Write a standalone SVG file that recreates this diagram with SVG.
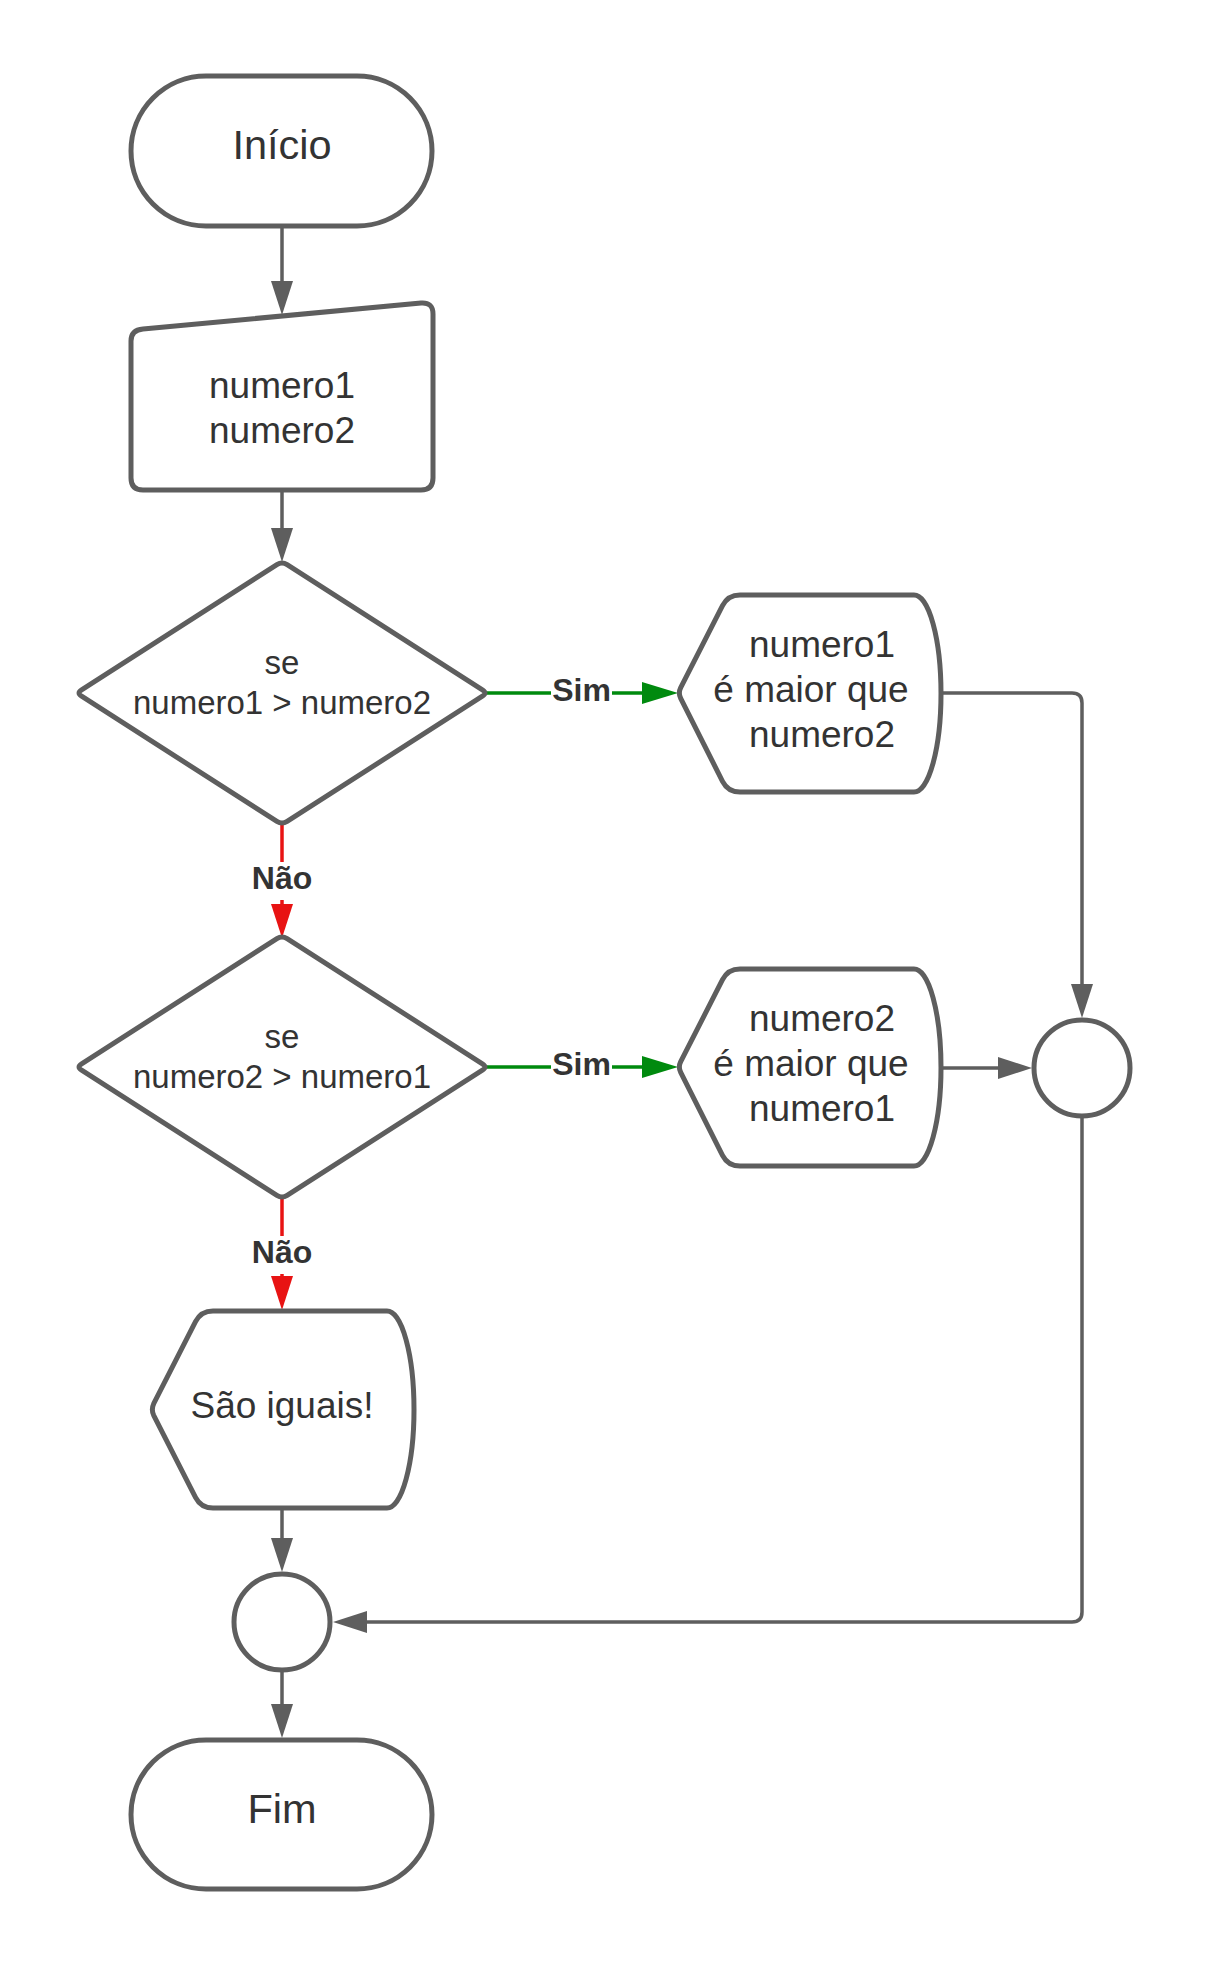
<svg xmlns="http://www.w3.org/2000/svg" width="1206" height="1967" viewBox="0 0 1206 1967">
<style>
.shape{fill:#ffffff;stroke:#5e5e5e;stroke-width:5;stroke-linejoin:round}
.conn{fill:none;stroke:#5e5e5e;stroke-width:3.5}
.red{fill:none;stroke:#e81313;stroke-width:3.5}
.green{fill:none;stroke:#008a0e;stroke-width:3.5}
text{font-family:"Liberation Sans",Arial,Helvetica,sans-serif;fill:#333333;text-anchor:middle}
.t41{font-size:41.5px}
.t37{font-size:37px}
.t33{font-size:33px}
.lbl{font-size:32px;font-weight:bold}
.bg{fill:#ffffff;stroke:none}
</style>
<defs>
<marker id="ag" markerUnits="userSpaceOnUse" markerWidth="34" markerHeight="22" refX="2" refY="11" orient="auto"><path d="M0,0 L34,11 L0,22 Z" fill="#5e5e5e"/></marker>
<marker id="ar" markerUnits="userSpaceOnUse" markerWidth="34" markerHeight="22" refX="2" refY="11" orient="auto"><path d="M0,0 L34,11 L0,22 Z" fill="#e81313"/></marker>
<marker id="agr" markerUnits="userSpaceOnUse" markerWidth="36" markerHeight="22" refX="2" refY="11" orient="auto"><path d="M0,0 L36,11 L0,22 Z" fill="#008a0e"/></marker>
</defs>
<g id="connectors">
<path class="conn" d="M282,227 V283" marker-end="url(#ag)"/>
<path class="conn" d="M282,490 V530" marker-end="url(#ag)"/>
<path class="red" d="M282,822 V906" marker-end="url(#ar)"/>
<path class="red" d="M282,1196 V1278" marker-end="url(#ar)"/>
<path class="green" d="M485,693 H644" marker-end="url(#agr)"/>
<path class="green" d="M485,1067 H644" marker-end="url(#agr)"/>
<path class="conn" d="M941,693 H1072 Q1082,693 1082,703 V986" marker-end="url(#ag)"/>
<path class="conn" d="M941,1068 H1000" marker-end="url(#ag)"/>
<path class="conn" d="M1082,1118 V1612 Q1082,1622 1072,1622 H365" marker-end="url(#ag)"/>
<path class="conn" d="M282,1509 V1540" marker-end="url(#ag)"/>
<path class="conn" d="M282,1672 V1706" marker-end="url(#ag)"/>
<g id="label-nao1"><rect class="bg" x="250" y="862" width="64" height="38"/><text class="lbl" x="282" y="889">Não</text></g>
<g id="label-nao2"><rect class="bg" x="250" y="1236" width="64" height="38"/><text class="lbl" x="282" y="1263">Não</text></g>
<g id="label-sim1"><rect class="bg" x="551" y="674" width="61" height="38"/><text class="lbl" x="581.5" y="701">Sim</text></g>
<g id="label-sim2"><rect class="bg" x="551" y="1048" width="61" height="38"/><text class="lbl" x="581.5" y="1075">Sim</text></g>
</g>
<g id="inicio">
<rect class="shape" x="131" y="76" width="301" height="150" rx="75" ry="75"/>
<text class="t41" x="282" y="159">Início</text>
</g>
<g id="entrada">
<path class="shape" d="M143,329 L421,303 Q433,302 433,314 L433,478 Q433,490 421,490 L143,490 Q131,490 131,478 L131,341 Q131,330 143,329 Z"/>
<text class="t37" x="282" y="398">numero1</text>
<text class="t37" x="282" y="443">numero2</text>
</g>
<g id="decisao1">
<path class="shape" d="M287.1,564.6 L482.4,689.8 Q487.5,693 482.4,696.2 L287.1,821.4 Q282,824.6 276.9,821.4 L81.6,696.2 Q76.5,693 81.6,689.8 L276.9,564.6 Q282,561.4 287.1,564.6 Z"/>
<text class="t33" x="282" y="674">se</text>
<text class="t33" x="282" y="714">numero1 &gt; numero2</text>
</g>
<g id="decisao2">
<path class="shape" d="M287.1,938.6 L482.4,1063.8 Q487.5,1067 482.4,1070.2 L287.1,1195.4 Q282,1198.6 276.9,1195.4 L81.6,1070.2 Q76.5,1067 81.6,1063.8 L276.9,938.6 Q282,935.4 287.1,938.6 Z"/>
<text class="t33" x="282" y="1048">se</text>
<text class="t33" x="282" y="1088">numero2 &gt; numero1</text>
</g>
<g id="saida1">
<path class="shape" d="M680.7,687.7 L722.5,605.7 Q728,595 740,595 L914,595 A27,98.5 0 0 1 914,792 L740,792 Q728,792 722.5,781.3 L680.7,698.3 Q678,693 680.7,687.7 Z"/>
<text class="t37" x="822" y="657">numero1</text>
<text class="t37" x="811" y="702">é maior que</text>
<text class="t37" x="822" y="747">numero2</text>
</g>
<g id="saida2">
<path class="shape" d="M680.7,1061.7 L722.5,979.7 Q728,969 740,969 L914,969 A27,98.5 0 0 1 914,1166 L740,1166 Q728,1166 722.5,1155.3 L680.7,1072.3 Q678,1067 680.7,1061.7 Z"/>
<text class="t37" x="822" y="1031">numero2</text>
<text class="t37" x="811" y="1076">é maior que</text>
<text class="t37" x="822" y="1121">numero1</text>
</g>
<g id="saida3">
<path class="shape" d="M153.7,1403.7 L195.5,1321.7 Q201,1311 213,1311 L387,1311 A27,98.5 0 0 1 387,1508 L213,1508 Q201,1508 195.5,1497.3 L153.7,1415.3 Q151,1409.5 153.7,1403.7 Z"/>
<text class="t37" x="282" y="1418">São iguais!</text>
</g>
<g id="juncao1">
<circle class="shape" cx="1082" cy="1068" r="48"/>
</g>
<g id="juncao2">
<circle class="shape" cx="282" cy="1622" r="48"/>
</g>
<g id="fim">
<rect class="shape" x="131" y="1740" width="301" height="149" rx="75" ry="74.5"/>
<text class="t41" x="282" y="1823">Fim</text>
</g>
</svg>
